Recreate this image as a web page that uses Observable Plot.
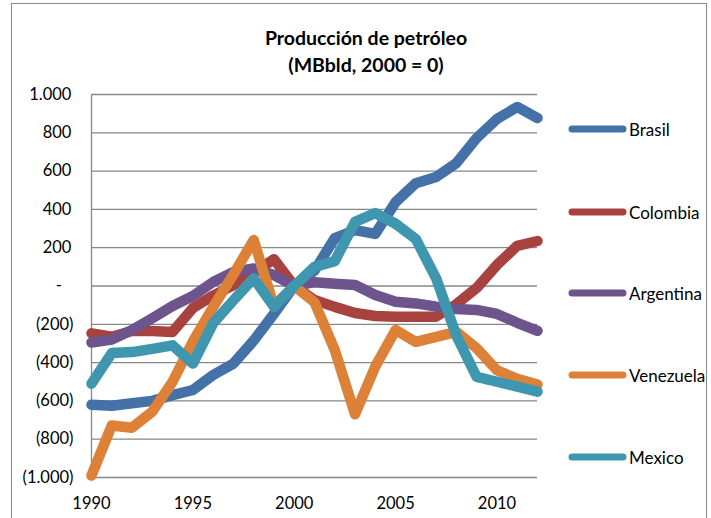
<!DOCTYPE html>
<html><head><meta charset="utf-8">
<script src="https://cdn.jsdelivr.net/npm/d3@7"></script>
<script src="https://cdn.jsdelivr.net/npm/@observablehq/plot@0.6"></script>
<style>
body{margin:0;background:#fff;}
#wrap{position:relative;width:711px;height:518px;overflow:hidden;font-family:Lato,sans-serif;color:#000;}
#frame{position:absolute;left:11px;top:3px;width:696px;height:560px;border:1px solid #878787;box-sizing:border-box;}
#title{position:absolute;left:0;width:732px;top:24px;text-align:center;font-weight:bold;font-size:19.5px;line-height:27px;}
#chart{position:absolute;left:0;top:0;}
.leg{position:absolute;left:566px;height:20px;display:flex;align-items:center;font-size:17px;}
.leg svg{margin-right:1px;}
</style></head>
<body>
<div id="wrap">
  <div id="frame"></div>
  <div id="chart"></div>
  <div id="title">Producción de petróleo<br>(MBbld, 2000 = 0)</div>
  <div id="legend"></div>
</div>
<script>
const years = [1990,1991,1992,1993,1994,1995,1996,1997,1998,1999,2000,2001,2002,2003,2004,2005,2006,2007,2008,2009,2010,2011,2012];
const countries = ["Brasil","Colombia","Argentina","Venezuela","Mexico"];
const colors = ["#4472A8","#A8423F","#6E548D","#DD8138","#3E97AF"];
const brasil    = [-620,-625,-612,-600,-570,-543,-465,-405,-285,-145,0,80,250,292,272,438,537,569,642,773,872,935,877];
const colombia  = [-247,-265,-235,-235,-240,-115,-50,5,68,140,0,-73,-109,-141,-157,-160,-160,-160,-95,-10,110,210,235];
const argentina = [-295,-280,-230,-168,-104,-52,21,73,92,57,0,20,12,5,-47,-82,-91,-108,-120,-125,-146,-192,-234];
const venezuela = [-990,-728,-740,-656,-500,-290,-110,60,240,-105,0,-85,-335,-670,-420,-230,-292,-266,-240,-325,-440,-485,-515];
const mexico    = [-510,-350,-345,-328,-310,-405,-195,-75,40,-108,0,100,130,335,381,325,245,40,-260,-475,-500,-525,-552];
const yTicks = [-1000,-800,-600,-400,-200,0,200,400,600,800,1000];
const xTicks = [1990,1995,2000,2005,2010];

const series = [brasil, colombia, argentina, venezuela, mexico];
const rows = [];
countries.forEach((c, i) => years.forEach((y, j) => rows.push({country: c, year: y, value: series[i][j]})));

const num = v => d3.format(",")(v).replace(/,/g, ".");
const yFmt = v => v === 0 ? "-\u2007\u2009" : v < 0 ? `(${num(-v)})` : num(v) + "\u2009";

const chart = Plot.plot({
  width: 711, height: 518,
  marginLeft: 91, marginRight: 174, marginTop: 94, marginBottom: 41,
  style: {fontFamily: "Lato, sans-serif", fontSize: "16.5px", color: "#000", background: "transparent", overflow: "visible"},
  x: {domain: [1990, 2012], label: null},
  y: {domain: [-1000, 1000], label: null},
  color: {domain: countries, range: colors},
  marks: [
    Plot.gridY(yTicks, {stroke: "#878787", strokeOpacity: 1, strokeWidth: 1.3}),
    Plot.ruleX([1990], {stroke: "#878787", strokeWidth: 1.3}),
    Plot.axisY(yTicks, {tickSize: 0, tickPadding: 18, tickFormat: yFmt, fill: "#000", label: null}),
    Plot.axisX(xTicks, {tickSize: 0, tickPadding: 20, tickFormat: d => String(d), fill: "#000", label: null}),
    Plot.line(rows, {x: "year", y: "value", z: "country", stroke: "country", strokeWidth: 10.5, strokeLinejoin: "round", strokeLinecap: "round", clip: false})
  ]
});
document.getElementById("chart").appendChild(chart);

const legY = [129, 212, 293, 375, 457];
const leg = document.getElementById("legend");
countries.forEach((c, i) => {
  const d = document.createElement("div");
  d.className = "leg";
  d.style.top = (legY[i] - 10) + "px";
  d.innerHTML = `<svg width="62" height="20"><line x1="6" y1="10" x2="57" y2="10" stroke="${colors[i]}" stroke-width="7" stroke-linecap="round"/></svg><span>${c}</span>`;
  leg.appendChild(d);
});
</script>
</body></html>
